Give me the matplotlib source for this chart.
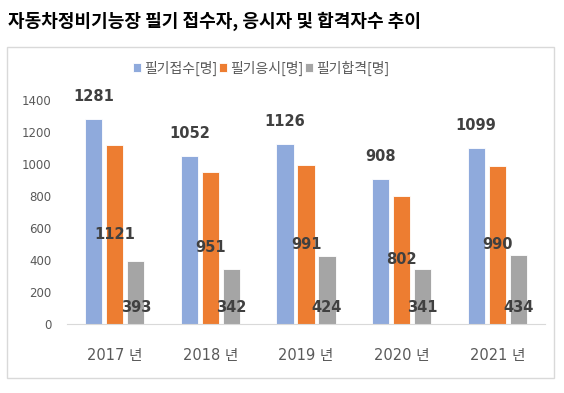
import numpy as np
import matplotlib
matplotlib.use("Agg")
from matplotlib import pyplot as plt
from matplotlib.patches import Rectangle

plt.rcParams["font.family"] = ["DejaVu Sans", "Noto Sans CJK KR"]

years = ["2017 년", "2018 년", "2019 년", "2020 년", "2021 년"]
applied = [1281, 1052, 1126, 908, 1099]
took = [1121, 951, 991, 802, 990]
passed = [393, 342, 424, 341, 434]
series_names = ["필기접수[명]", "필기응시[명]", "필기합격[명]"]
colors = ["#8faadc", "#ed7d31", "#a5a5a5"]

label_color = "#404040"
tick_color = "#595959"
kr = ["Noto Sans CJK KR", "DejaVu Sans"]

fig = plt.figure(figsize=(5.64, 3.93), dpi=100)

# outer chart box
fig.patches.append(Rectangle((7 / 564, 1 - 378 / 393), 547 / 564, 331 / 393,
                             transform=fig.transFigure, fill=False,
                             edgecolor="#d9d9d9", linewidth=1))

fig.text(8 / 564, 1 - 21 / 393, "자동차정비기능장 필기 접수자, 응시자 및 합격자수 추이",
         fontsize=13, fontweight="bold", color="black", va="center", ha="left",
         family=kr)

ax = fig.add_axes([67 / 564, 1 - 324 / 393, 478 / 564, 224 / 393])

x = np.arange(len(years))
width = 0.18
step = 0.22

bars = []
for i, (vals, name, c) in enumerate(zip([applied, took, passed], series_names, colors)):
    b = ax.bar(x + (i - 1) * step, vals, width, color=c, label=name,
               edgecolor="white", linewidth=0.6)
    bars.append(b)

# value labels: outside end / center / inside base
lbl = dict(fontsize=10.5, fontweight="bold", color=label_color,
           ha="center", va="center")
for rect, v in zip(bars[0], applied):
    ax.annotate(str(v), (rect.get_x() + rect.get_width() / 2, v),
                xytext=(0, 16), textcoords="offset points", **lbl)
for rect, v in zip(bars[1], took):
    ax.annotate(str(v), (rect.get_x() + rect.get_width() / 2, v / 2), **lbl)
for rect, v in zip(bars[2], passed):
    ax.annotate(str(v), (rect.get_x() + rect.get_width() / 2, 0),
                xytext=(0, 12), textcoords="offset points", **lbl)

ax.set_xlim(-0.5, len(years) - 0.5)
ax.set_ylim(0, 1400)
ax.set_yticks(range(0, 1401, 200))
ax.set_xticks(x)
ax.set_xticklabels(years)

for s in ["top", "right", "left"]:
    ax.spines[s].set_visible(False)
ax.spines["bottom"].set_color("#d9d9d9")
ax.tick_params(axis="y", length=0, pad=11, labelsize=8.5, labelcolor=tick_color)
ax.tick_params(axis="x", length=0, pad=17, labelsize=10.5, labelcolor=tick_color)

fig.legend(loc="center", bbox_to_anchor=(261 / 564, 1 - 68 / 393), ncol=3,
           frameon=False, handlelength=0.6, handleheight=0.6,
           handletextpad=0.2, columnspacing=0.1, labelcolor=tick_color,
           prop={"family": kr, "size": 10})

plt.savefig("out.png", dpi=100)
